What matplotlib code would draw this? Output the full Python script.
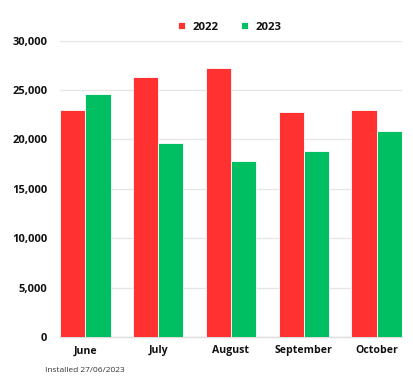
import matplotlib
matplotlib.use("Agg")
import matplotlib.pyplot as plt
import numpy as np

months = ["June", "July", "August", "September", "October"]
y2022 = [23000, 26300, 27200, 22800, 23000]
y2023 = [24600, 19600, 17800, 18800, 20900]
series_labels = ["2022", "2023"]
yticks = [0, 5000, 10000, 15000, 20000, 25000, 30000]
note = "Installed 27/06/2023"

red = "#FF3131"
green = "#00BF63"

plt.rcParams['font.family'] = ['Open Sans', 'DejaVu Sans']

fig = plt.figure(figsize=(4.14, 3.88), dpi=100)
ax = fig.add_axes([60/414, 1-337/388, (402-60)/414, (337-40.7)/388])

x = np.arange(len(months))
w = 0.345
ax.bar(x - w/2, y2022, width=w, color=red, edgecolor="white", linewidth=0.6, label=series_labels[0], zorder=3)
ax.bar(x + w/2, y2023, width=w, color=green, edgecolor="white", linewidth=0.6, label=series_labels[1], zorder=3)

ax.set_xlim(-0.35, 4.35)
ax.set_ylim(0, 30000)
ax.set_yticks(yticks)
ax.set_yticklabels([f"{v:,}" for v in yticks], fontsize=8, fontweight="bold", color="#111111")
ax.set_xticks(x)
ax.set_xticklabels(months, fontsize=7.6, fontweight="bold", color="#111111")
ax.tick_params(axis="both", length=0)
ax.tick_params(axis="y", pad=9)
ax.tick_params(axis="x", pad=6)
ax.grid(axis="y", color="#E6E6E6", linewidth=1, zorder=0)
for s in ["top", "right", "left"]:
    ax.spines[s].set_visible(False)
ax.spines["bottom"].set_color("#DDDDDD")
ax.spines["bottom"].set_linewidth(1)

leg = fig.legend(loc="center", bbox_to_anchor=(230/414, 1-27/388), ncol=2, frameon=False,
                 handlelength=0.55, handleheight=0.55, columnspacing=2.0,
                 handletextpad=0.7, prop={"weight": "bold", "size": 8.2})
for t in leg.get_texts():
    t.set_color("#111111")

fig.text(45/414, 1-370/388, note, fontsize=6, color="#333333", va="center", ha="left")

fig.savefig("out.png", dpi=100)
